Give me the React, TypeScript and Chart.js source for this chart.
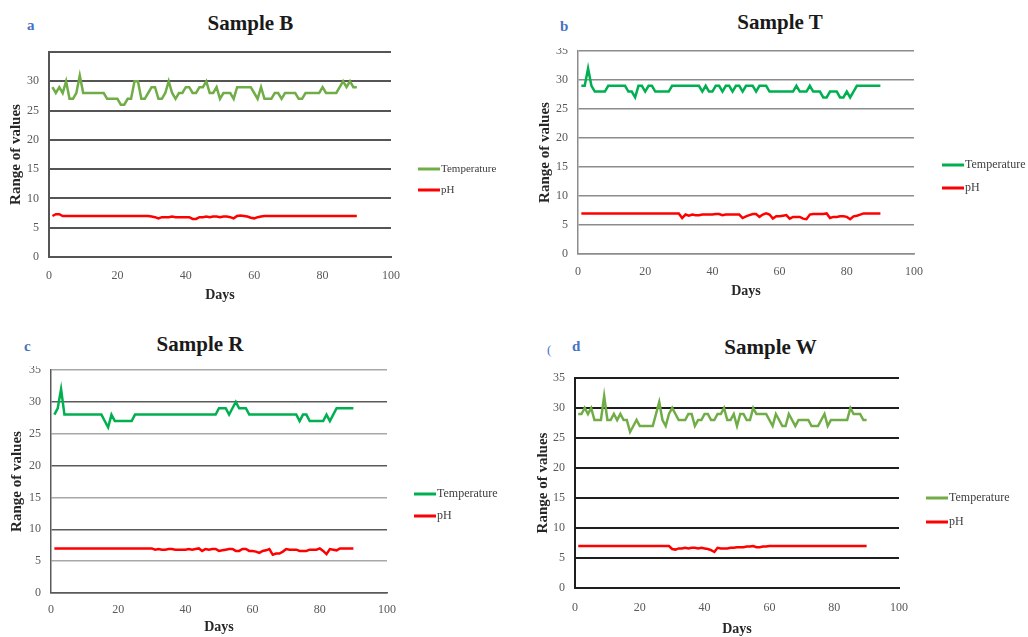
import React, { useEffect, useRef } from "react";
import { Chart, registerables } from "chart.js";

Chart.register(...registerables);

// ---------- data ----------
const days: number[] = Array.from({ length: 90 }, (_, i) => i + 1);
const xTicks = [0, 20, 40, 60, 80, 100];
const yTicks = [0, 5, 10, 15, 20, 25, 30, 35];

const tempB = [
  29, 28, 29, 28, 30, 27, 27, 28, 31, 28,
  28, 28, 28, 28, 28, 28, 27, 27, 27, 27,
  26, 26, 27, 27, 30, 30, 27, 27, 28, 29,
  29, 27, 27, 28, 30, 28, 27, 28, 28, 29,
  29, 28, 28, 29, 29, 30, 28, 28, 29, 27,
  28, 28, 28, 27, 29, 29, 29, 29, 29, 28,
  27, 29, 27, 27, 27, 28, 28, 27, 28, 28,
  28, 28, 27, 27, 28, 28, 28, 28, 28, 29,
  28, 28, 28, 28, 29, 30, 29, 30, 29, 29,
];
const phB = [
  7.0, 7.3, 7.3, 7.0, 7.0, 7.0, 7.0, 7.0, 7.0, 7.0,
  7.0, 7.0, 7.0, 7.0, 7.0, 7.0, 7.0, 7.0, 7.0, 7.0,
  7.0, 7.0, 7.0, 7.0, 7.0, 7.0, 7.0, 7.0, 7.0, 6.9,
  6.8, 6.6, 6.8, 6.8, 6.8, 6.9, 6.8, 6.8, 6.8, 6.8,
  6.8, 6.5, 6.5, 6.8, 6.8, 6.9, 6.8, 6.9, 6.9, 6.8,
  6.9, 6.9, 6.8, 6.6, 7.0, 7.1, 7.0, 6.9, 6.7, 6.6,
  6.8, 6.9, 7.0, 7.0, 7.0, 7.0, 7.0, 7.0, 7.0, 7.0,
  7.0, 7.0, 7.0, 7.0, 7.0, 7.0, 7.0, 7.0, 7.0, 7.0,
  7.0, 7.0, 7.0, 7.0, 7.0, 7.0, 7.0, 7.0, 7.0, 7.0,
];

const tempT = [
  29, 29, 32, 29, 28, 28, 28, 28, 29, 29,
  29, 29, 29, 29, 28, 28, 27, 29, 29, 28,
  29, 29, 28, 28, 28, 28, 28, 29, 29, 29,
  29, 29, 29, 29, 29, 29, 28, 29, 28, 28,
  29, 29, 28, 29, 29, 28, 29, 29, 28, 29,
  29, 29, 28, 29, 29, 29, 28, 28, 28, 28,
  28, 28, 28, 28, 29, 28, 28, 28, 29, 28,
  28, 28, 27, 27, 28, 28, 28, 27, 27, 28,
  27, 28, 29, 29, 29, 29, 29, 29, 29, 29,
];
const phT = [
  7.0, 7.0, 7.0, 7.0, 7.0, 7.0, 7.0, 7.0, 7.0, 7.0,
  7.0, 7.0, 7.0, 7.0, 7.0, 7.0, 7.0, 7.0, 7.0, 7.0,
  7.0, 7.0, 7.0, 7.0, 7.0, 7.0, 7.0, 7.0, 7.0, 7.0,
  6.2, 6.8, 6.6, 6.8, 6.7, 6.7, 6.8, 6.8, 6.8, 6.8,
  6.9, 6.9, 6.7, 6.8, 6.8, 6.8, 6.8, 6.8, 6.2, 6.5,
  6.7, 6.9, 6.9, 6.4, 6.8, 7.0, 6.8, 6.1, 6.5, 6.5,
  6.6, 6.7, 6.1, 6.4, 6.4, 6.4, 6.1, 6.0, 6.8, 6.9,
  6.9, 6.9, 6.9, 7.0, 6.2, 6.4, 6.4, 6.5, 6.5, 6.4,
  6.0, 6.5, 6.6, 6.8, 7.0, 7.0, 7.0, 7.0, 7.0, 7.0,
];

const tempR = [
  28, 29, 32, 28, 28, 28, 28, 28, 28, 28,
  28, 28, 28, 28, 28, 27, 26, 28, 27, 27,
  27, 27, 27, 27, 28, 28, 28, 28, 28, 28,
  28, 28, 28, 28, 28, 28, 28, 28, 28, 28,
  28, 28, 28, 28, 28, 28, 28, 28, 28, 29,
  29, 29, 28, 29, 30, 29, 29, 29, 28, 28,
  28, 28, 28, 28, 28, 28, 28, 28, 28, 28,
  28, 28, 28, 27, 28, 28, 27, 27, 27, 27,
  27, 28, 27, 28, 29, 29, 29, 29, 29, 29,
];
const phR = [
  7.0, 7.0, 7.0, 7.0, 7.0, 7.0, 7.0, 7.0, 7.0, 7.0,
  7.0, 7.0, 7.0, 7.0, 7.0, 7.0, 7.0, 7.0, 7.0, 7.0,
  7.0, 7.0, 7.0, 7.0, 7.0, 7.0, 7.0, 7.0, 7.0, 7.0,
  6.8, 6.9, 6.8, 6.8, 6.9, 6.9, 6.8, 6.8, 6.8, 6.8,
  6.9, 6.8, 6.9, 7.0, 6.6, 6.9, 6.8, 6.9, 6.9, 6.6,
  6.7, 6.8, 6.9, 6.9, 6.6, 6.6, 6.9, 6.9, 6.6, 6.6,
  6.5, 6.3, 6.6, 6.7, 6.9, 6.0, 6.2, 6.2, 6.5, 6.9,
  6.8, 6.8, 6.8, 6.6, 6.6, 6.6, 6.8, 6.8, 6.8, 7.0,
  6.6, 6.1, 6.9, 6.8, 6.7, 7.0, 7.0, 7.0, 7.0, 7.0,
];

const tempW = [
  29, 29, 30, 29, 30, 28, 28, 28, 32, 28,
  28, 29, 28, 29, 28, 28, 26, 27, 28, 27,
  27, 27, 27, 27, 29, 31, 28, 27, 29, 30,
  29, 28, 28, 28, 29, 29, 27, 28, 28, 29,
  29, 28, 28, 29, 29, 30, 28, 28, 29, 27,
  29, 29, 28, 28, 30, 29, 29, 29, 29, 28,
  27, 29, 28, 27, 27, 29, 28, 27, 28, 28,
  28, 28, 27, 27, 27, 28, 29, 27, 28, 28,
  28, 28, 28, 28, 30, 29, 29, 29, 28, 28,
];
const phW = [
  7.0, 7.0, 7.0, 7.0, 7.0, 7.0, 7.0, 7.0, 7.0, 7.0,
  7.0, 7.0, 7.0, 7.0, 7.0, 7.0, 7.0, 7.0, 7.0, 7.0,
  7.0, 7.0, 7.0, 7.0, 7.0, 7.0, 7.0, 7.0, 7.0, 6.5,
  6.4, 6.6, 6.6, 6.7, 6.6, 6.7, 6.7, 6.6, 6.7, 6.6,
  6.5, 6.3, 6.0, 6.7, 6.6, 6.6, 6.6, 6.7, 6.7, 6.8,
  6.8, 6.8, 6.9, 6.9, 7.0, 6.8, 6.8, 6.9, 6.9, 7.0,
  7.0, 7.0, 7.0, 7.0, 7.0, 7.0, 7.0, 7.0, 7.0, 7.0,
  7.0, 7.0, 7.0, 7.0, 7.0, 7.0, 7.0, 7.0, 7.0, 7.0,
  7.0, 7.0, 7.0, 7.0, 7.0, 7.0, 7.0, 7.0, 7.0, 7.0,
];

const seriesNames = ["Temperature", "pH"];

// ---------- styling ----------
const FONT = '"Liberation Serif", "Times New Roman", serif';
const PH_COLOR = "#FF0000";
const LETTER_COLOR = "#4472C4";

type Box = { x: number; y: number; w: number; h: number };
type Area = { L: number; T: number; R: number; B: number };
type PanelCfg = {
  title: string;
  titleCx: number;
  titleTop: number;
  letter: string;
  letterX: number;
  letterTop: number;
  box: Box;
  area: Area;
  temp: number[];
  ph: number[];
  tempColor: string;
  grid: (v: number) => string;
  gridW: number;
  axisColor: string;
  hideTop: boolean;
  yTitlePad: number;
  xTickPad: number;
  legendX: number;
  legendYs: number[];
  legendSize: number;
};

const panels: PanelCfg[] = [
  {
    title: "Sample B", titleCx: 250.5, titleTop: 13, letter: "a", letterX: 27, letterTop: 17.5,
    box: { x: 0, y: 40, w: 520, h: 264 }, area: { L: 49, T: 52, R: 391, B: 257 },
    temp: tempB, ph: phB, tempColor: "#70AD47",
    grid: () => "#555555", gridW: 2, axisColor: "#555555", hideTop: true, yTitlePad: 7, xTickPad: 4,
    legendX: 418, legendYs: [169, 190], legendSize: 11,
  },
  {
    title: "Sample T", titleCx: 780, titleTop: 11.7, letter: "b", letterX: 560, letterTop: 19.4,
    box: { x: 520, y: 48, w: 508, h: 252 }, area: { L: 578, T: 51, R: 914, B: 254 },
    temp: tempT, ph: phT, tempColor: "#00B050",
    grid: () => "#8c8c8c", gridW: 1.5, axisColor: "#8c8c8c", hideTop: false, yTitlePad: 16, xTickPad: 3,
    legendX: 942, legendYs: [165, 188], legendSize: 12,
  },
  {
    title: "Sample R", titleCx: 200, titleTop: 334, letter: "c", letterX: 24, letterTop: 339.4,
    box: { x: 0, y: 366, w: 520, h: 270 }, area: { L: 51, T: 370, R: 387, B: 593 },
    temp: tempR, ph: phR, tempColor: "#00B050",
    grid: (v) => (v % 10 === 0 ? "#5a5a5a" : "#a8a8a8"), gridW: 1.5, axisColor: "#5a5a5a", hideTop: false, yTitlePad: 8, xTickPad: 2,
    legendX: 414, legendYs: [494, 516], legendSize: 12,
  },
  {
    title: "Sample W", titleCx: 770.5, titleTop: 336.7, letter: "d", letterX: 572, letterTop: 339.4,
    box: { x: 520, y: 365, w: 508, h: 273 }, area: { L: 575, T: 378, R: 899, B: 588 },
    temp: tempW, ph: phW, tempColor: "#70AD47",
    grid: () => "#1e1e1e", gridW: 2, axisColor: "#1e1e1e", hideTop: false, yTitlePad: 13.7, xTickPad: 5,
    legendX: 926, legendYs: [498, 522], legendSize: 12,
  },
];

const legendPlugin = {
  id: "panelLegend",
  afterDraw(chart: any, _args: any, opts: any) {
    const ctx = chart.ctx;
    ctx.save();
    chart.data.datasets.forEach((ds: any, i: number) => {
      const y = opts.ys[i];
      ctx.strokeStyle = ds.borderColor;
      ctx.lineWidth = 3;
      ctx.beginPath();
      ctx.moveTo(opts.x, y);
      ctx.lineTo(opts.x + 22, y);
      ctx.stroke();
      ctx.fillStyle = "#404040";
      ctx.font = `${opts.size}px ${FONT}`;
      ctx.textBaseline = "middle";
      ctx.textAlign = "left";
      ctx.fillText(ds.label, opts.x + 23, y);
    });
    ctx.restore();
  },
};

function Panel({ cfg }: { cfg: PanelCfg }) {
  const ref = useRef<HTMLCanvasElement>(null);
  useEffect(() => {
    const { box, area } = cfg;
    const chart = new Chart(ref.current as HTMLCanvasElement, {
      type: "line",
      data: {
        datasets: [
          {
            label: seriesNames[0],
            data: days.map((d, i) => ({ x: d, y: cfg.temp[i] })),
            borderColor: cfg.tempColor,
            backgroundColor: cfg.tempColor,
            borderWidth: 2.5,
            pointRadius: 0,
            tension: 0,
          },
          {
            label: seriesNames[1],
            data: days.map((d, i) => ({ x: d, y: cfg.ph[i] })),
            borderColor: PH_COLOR,
            backgroundColor: PH_COLOR,
            borderWidth: 2.5,
            pointRadius: 0,
            tension: 0,
          },
        ],
      },
      options: {
        responsive: false,
        animation: false,
        devicePixelRatio: 1,
        layout: {
          padding: { left: 0, top: area.T - box.y, right: box.x + box.w - area.R, bottom: 0 },
        },
        plugins: {
          legend: { display: false },
          tooltip: { enabled: false },
          panelLegend: {
            x: cfg.legendX - box.x,
            ys: cfg.legendYs.map((y) => y - box.y),
            size: cfg.legendSize,
          },
        } as any,
        scales: {
          x: {
            type: "linear",
            min: xTicks[0],
            max: xTicks[xTicks.length - 1],
            ticks: {
              stepSize: xTicks[1] - xTicks[0],
              padding: cfg.xTickPad,
              color: "#595959",
              font: { family: FONT, size: 12 },
              maxRotation: 0,
            },
            grid: { display: false },
            border: { display: true, color: cfg.axisColor, width: cfg.gridW },
            title: {
              display: true,
              text: "Days",
              color: "#262626",
              font: { family: FONT, size: 14, weight: "bold" },
              padding: { top: 0, bottom: 0 },
            },
            afterFit: (s: any) => {
              s.height = box.y + box.h - area.B;
              s.paddingLeft = 0;
              s.paddingRight = 0;
            },
          },
          y: {
            type: "linear",
            min: yTicks[0],
            max: yTicks[yTicks.length - 1],
            ticks: {
              stepSize: yTicks[1] - yTicks[0],
              padding: 10,
              color: "#595959",
              font: { family: FONT, size: 12 },
              callback: (v: any) => (cfg.hideTop && v === yTicks[yTicks.length - 1] ? "" : String(v)),
            },
            grid: {
              drawTicks: false,
              color: (c: any) => cfg.grid(c.tick ? c.tick.value : 0),
              lineWidth: cfg.gridW,
            },
            border: { display: true, color: cfg.axisColor, width: cfg.gridW },
            title: {
              display: true,
              text: "Range of values",
              color: "#262626",
              font: { family: FONT, size: 15, weight: "bold" },
              padding: { top: cfg.yTitlePad, bottom: 0 },
            },
            afterFit: (s: any) => {
              s.width = area.L - box.x;
              s.paddingTop = 0;
              s.paddingBottom = 0;
            },
          },
        },
      } as any,
      plugins: [legendPlugin],
    });
    return () => chart.destroy();
  }, [cfg]);

  const { box } = cfg;
  return (
    <>
      <canvas
        ref={ref}
        width={box.w}
        height={box.h}
        style={{ position: "absolute", left: box.x, top: box.y, width: box.w, height: box.h, display: "block" }}
      />
      <div
        style={{
          position: "absolute",
          left: cfg.titleCx - 120,
          width: 240,
          top: cfg.titleTop,
          textAlign: "center",
          fontFamily: FONT,
          fontWeight: "bold",
          fontSize: 21,
          lineHeight: "21px",
          color: "#1a1a1a",
          whiteSpace: "nowrap",
        }}
      >
        {cfg.title}
      </div>
      <div
        style={{
          position: "absolute",
          left: cfg.letterX,
          top: cfg.letterTop,
          fontFamily: FONT,
          fontWeight: "bold",
          fontSize: 15,
          lineHeight: "15px",
          color: LETTER_COLOR,
        }}
      >
        {cfg.letter}
      </div>
    </>
  );
}

export default function App() {
  return (
    <div
      style={{
        position: "absolute",
        left: 0,
        top: 0,
        width: 1028,
        height: 637,
        overflow: "hidden",
        background: "#ffffff",
      }}
    >
      {panels.map((p) => (
        <Panel key={p.title} cfg={p} />
      ))}
      <div
        style={{
          position: "absolute",
          left: 547,
          top: 343,
          fontFamily: FONT,
          fontSize: 13,
          lineHeight: "13px",
          color: LETTER_COLOR,
        }}
      >
        (
      </div>
    </div>
  );
}
